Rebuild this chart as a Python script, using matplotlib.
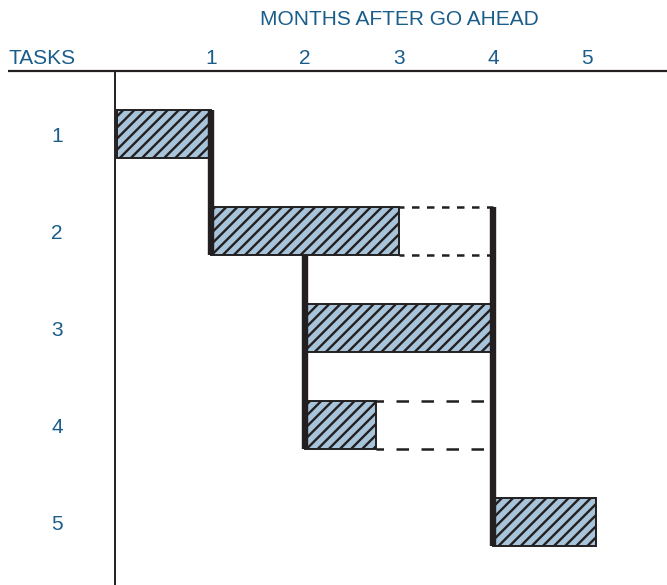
import matplotlib
matplotlib.use("Agg")
import matplotlib.pyplot as plt

plt.rcParams['font.family'] = ['Liberation Sans', 'DejaVu Sans']
plt.rcParams['hatch.linewidth'] = 1.7
plt.rcParams['hatch.color'] = '#231f20'

# task schedule (months after go ahead)
tasks = [1, 2, 3, 4, 5]
starts = [0, 1, 2, 2, 4]
durations = [1, 2, 2, 0.75, 1.1]
slack = [0, 1, 0, 1.25, 0]
months = [1, 2, 3, 4, 5]

# dependency links: month, top edge, bottom edge (in task units)
link_month = [1, 2, 4]
link_top = [0.75, 2.25, 1.75]
link_bottom = [2.25, 4.25, 5.25]

TEXT = '#1a5d8b'
FILL = '#a8c4da'
DARK = '#231f20'
BAR_H = 0.5
FS = 15

fig = plt.figure(figsize=(6.67, 5.85), dpi=100)
ax = fig.add_axes([0, 0, 1, 1])
ax.set_xlim(-1.245, 5.851)
ax.set_ylim(5.649, -0.381)
ax.axis('off')

# header
ax.text(3.0, -0.18, 'MONTHS AFTER GO AHEAD', color=TEXT, fontsize=FS,
        ha='center', va='center')
ax.text(-0.8, 0.22, 'TASKS', color=TEXT, fontsize=FS, ha='center', va='center')
for m in months:
    ax.text(m, 0.22, str(m), color=TEXT, fontsize=FS, ha='center', va='center')
ax.plot([-1.16, 5.851], [0.35, 0.35], color=DARK, lw=1.6, solid_capstyle='butt')
ax.plot([-0.02, -0.02], [0.35, 5.649], color=DARK, lw=1.4, solid_capstyle='butt')

for t, s, d, sl in zip(tasks, starts, durations, slack):
    ax.text(-0.64, t + 0.03, str(t), color=TEXT, fontsize=FS, ha='center', va='center')
    ax.barh(t, d, left=s, height=BAR_H, color=FILL, edgecolor=DARK,
            linewidth=1.4, hatch='///', zorder=2)
    if sl > 0:
        end = s + d
        if sl > 1:
            style = (2.0, (5, 5))
        else:
            style = (1.0, (3, 3))
        for y in (t - BAR_H / 2, t + BAR_H / 2):
            ax.plot([end, end + sl], [y, y], color=DARK, lw=1.8,
                    linestyle=style, zorder=2)

for m, y0, y1 in zip(link_month, link_top, link_bottom):
    ax.plot([m, m], [y0, y1], color=DARK, lw=4.6, solid_capstyle='butt', zorder=3)

fig.savefig('out.png', dpi=100)
